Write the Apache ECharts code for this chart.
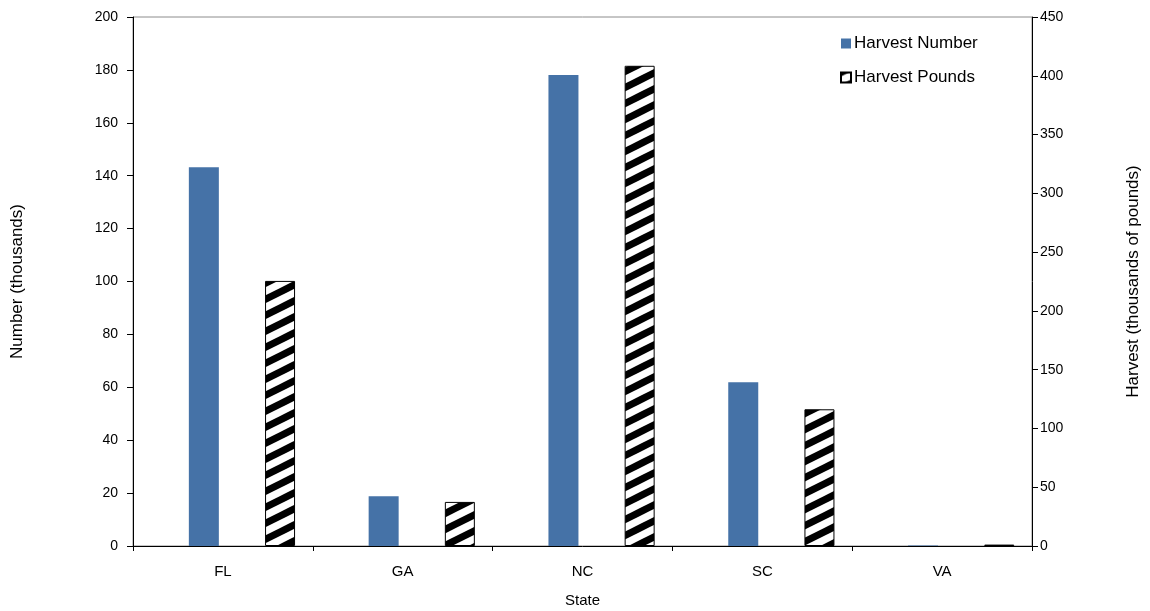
<!DOCTYPE html>
<html>
<head>
<meta charset="utf-8">
<title>Harvest by State</title>
<script src="https://cdn.jsdelivr.net/npm/echarts@6/dist/echarts.min.js"></script>
<style>
  html, body { margin: 0; padding: 0; background: #ffffff; }
  #chart { width: 1150px; height: 611px; }
</style>
</head>
<body>
<div id="chart"></div>
<script>
// data
var states = ['FL', 'GA', 'NC', 'SC', 'VA'];
var harvestNumber = [143.2, 18.8, 178.1, 61.9, 0.2];   // thousands (left axis)
var harvestPounds = [225.5, 37.5, 408.5, 116.3, 1.2];  // thousands of pounds (right axis)
var leftTicks = { min: 0, max: 200, interval: 20 };
var rightTicks = { min: 0, max: 450, interval: 50 };

// hatch fill for the pounds bars ("/" stripes, black on white)
function makeHatch() {
  var c = document.createElement('canvas');
  c.width = 32; c.height = 16;
  var ctx = c.getContext('2d');
  ctx.fillStyle = '#ffffff';
  ctx.fillRect(0, 0, 32, 16);
  ctx.strokeStyle = '#000000';
  ctx.lineWidth = 7;
  for (var k = -1; k <= 1; k++) {
    ctx.beginPath();
    ctx.moveTo(-8, 20 + 16 * k);
    ctx.lineTo(40, -4 + 16 * k);
    ctx.stroke();
  }
  return c;
}
var hatch = { image: makeHatch(), repeat: 'repeat' };

var font = 'Liberation Sans, Arial, sans-serif';
var myChart = echarts.init(document.getElementById('chart'), null, { renderer: 'canvas' });

var option = {
  animation: false,
  textStyle: { fontFamily: font, color: '#000' },
  grid: {
    left: 133, right: 118, top: 17, bottom: 65,
    outerBoundsMode: 'none',
    containLabel: false,
    show: true, borderColor: '#8c8c8c', borderWidth: 1, backgroundColor: 'transparent'
  },
  legend: {
    orient: 'vertical',
    left: 840, top: 35,
    padding: 0,
    icon: 'rect',
    itemWidth: 10, itemHeight: 10, itemGap: 17,
    data: ['Harvest Number', 'Harvest Pounds'],
    textStyle: { fontSize: 17, color: '#000', fontFamily: font, padding: [0, 0, 0, -2] }
  },
  xAxis: {
    type: 'category',
    data: states,
    name: 'State',
    nameLocation: 'middle',
    nameGap: 47,
    nameTextStyle: { fontSize: 15, color: '#000' },
    axisLine: { lineStyle: { color: '#000', width: 1 } },
    axisTick: { show: true, inside: false, length: 5, lineStyle: { color: '#000' } },
    axisLabel: { fontSize: 15, color: '#000', margin: 18 }
  },
  yAxis: [{
    type: 'value',
    min: leftTicks.min, max: leftTicks.max, interval: leftTicks.interval,
    name: 'Number (thousands)',
    nameLocation: 'middle',
    nameGap: 107,
    nameRotate: 90,
    nameTextStyle: { fontSize: 17, color: '#000' },
    axisLine: { show: true, lineStyle: { color: '#000', width: 1 } },
    axisTick: { show: true, length: 6, lineStyle: { color: '#000' } },
    axisLabel: { fontSize: 14, color: '#000', margin: 15 },
    splitLine: { show: false }
  }, {
    type: 'value',
    position: 'right',
    min: rightTicks.min, max: rightTicks.max, interval: rightTicks.interval,
    name: 'Harvest (thousands of pounds)',
    nameLocation: 'middle',
    nameGap: 93,
    nameRotate: 90,
    nameTextStyle: { fontSize: 17, color: '#000' },
    axisLine: { show: true, lineStyle: { color: '#000', width: 1 } },
    axisTick: { show: true, length: 6, lineStyle: { color: '#000' } },
    axisLabel: { fontSize: 14, color: '#000', margin: 8 },
    splitLine: { show: false }
  }],
  series: [
    { // empty slot so the pair sits off-centre like the original
      name: 'gap1', type: 'bar', yAxisIndex: 0, data: [],
      barWidth: 30, barGap: '27%'
    },
    {
      name: 'Harvest Number', type: 'bar', yAxisIndex: 0, data: harvestNumber,
      barWidth: 30, barGap: '27%',
      itemStyle: { color: '#4572a7' }
    },
    {
      name: 'gap2', type: 'bar', yAxisIndex: 0, data: [],
      barWidth: 30, barGap: '27%'
    },
    {
      name: 'Harvest Pounds', type: 'bar', yAxisIndex: 1, data: harvestPounds,
      barWidth: 30, barGap: '27%',
      itemStyle: { color: hatch, borderColor: '#000', borderWidth: 1 }
    }
  ]
};

myChart.setOption(option, true);
</script>
</body>
</html>
